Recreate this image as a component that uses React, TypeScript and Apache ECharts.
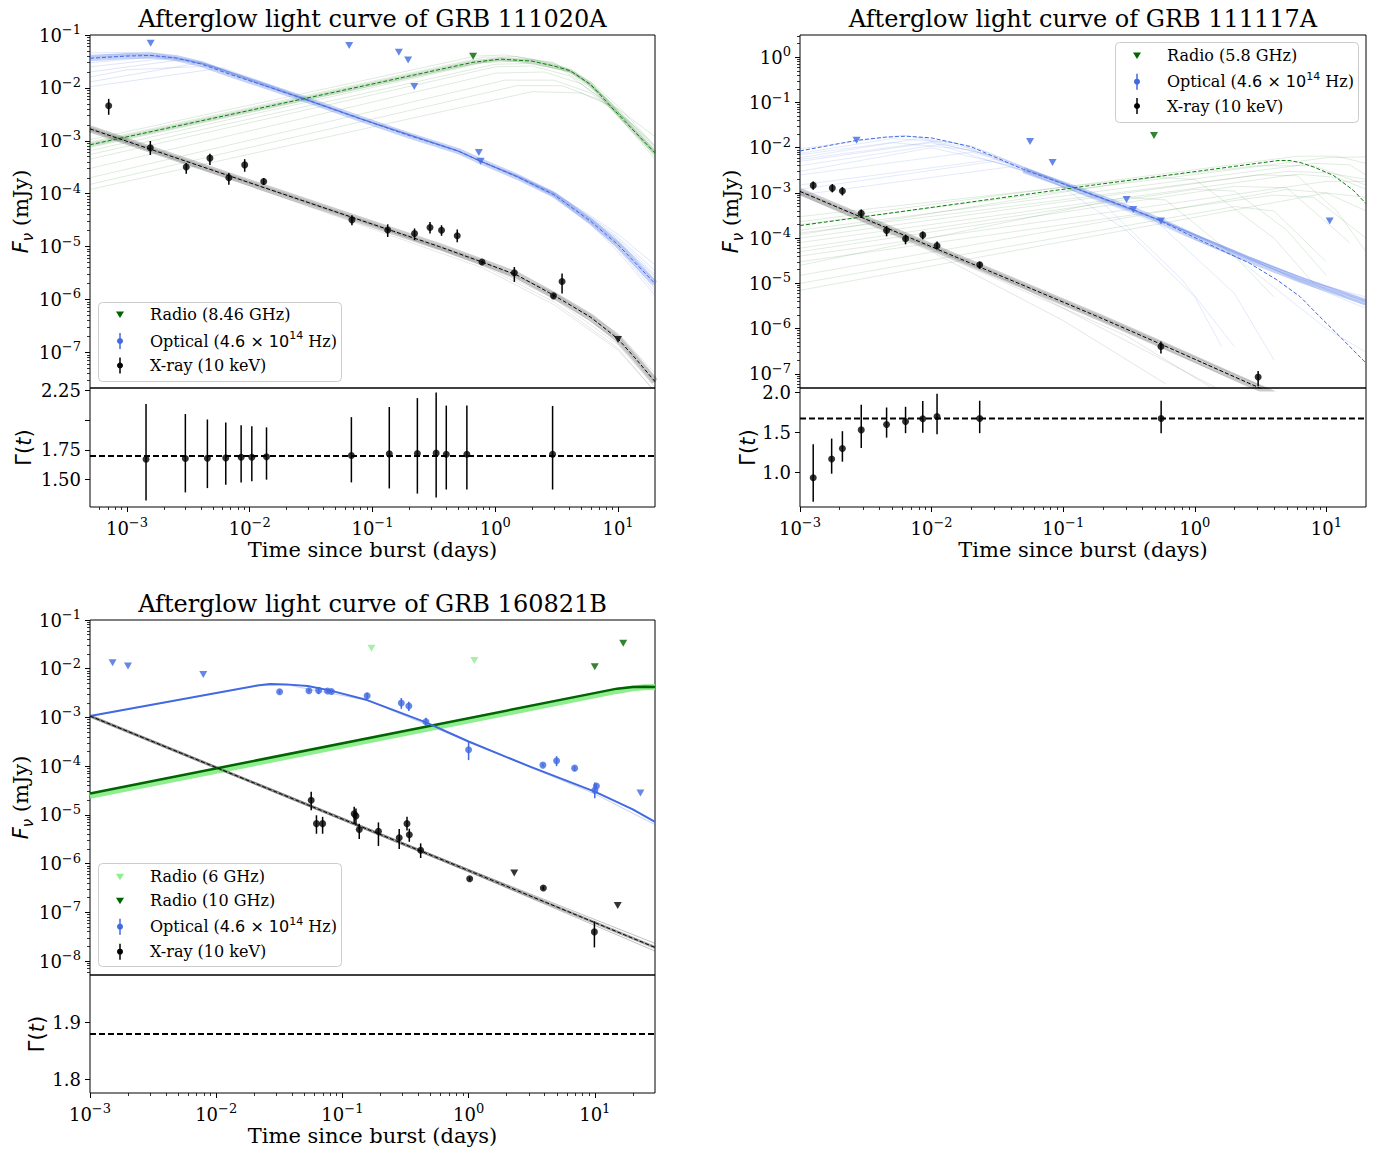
import React, { useEffect, useRef } from 'react';
import * as echarts from 'echarts';

type Pt = [number, number];
type Err = [number, number, number, number]; // t, value, low, high

// ================= GRB 111020A =================
const aXray: Err[] = [
  [7.1e-4, 4.6e-3, 3.1e-3, 6.2e-3],
  [1.55e-3, 7.4e-4, 5.4e-4, 9.9e-4],
  [3.04e-3, 3.2e-4, 2.38e-4, 3.8e-4],
  [4.74e-3, 4.7e-4, 3.5e-4, 5.7e-4],
  [6.76e-3, 2.0e-4, 1.48e-4, 2.45e-4],
  [9.1e-3, 3.5e-4, 2.6e-4, 4.5e-4],
  [1.3e-2, 1.7e-4, 1.46e-4, 1.98e-4],
  [6.8e-2, 3.2e-5, 2.53e-5, 3.9e-5],
  [0.133, 2.06e-5, 1.52e-5, 2.64e-5],
  [0.22, 1.76e-5, 1.32e-5, 2.2e-5],
  [0.294, 2.3e-5, 1.76e-5, 2.9e-5],
  [0.365, 2.03e-5, 1.6e-5, 2.53e-5],
  [0.49, 1.6e-5, 1.21e-5, 2.1e-5],
  [0.78, 5.1e-6, 4.8e-6, 5.4e-6],
  [1.43, 3.2e-6, 2.15e-6, 4.1e-6],
  [2.98, 1.17e-6, 1.08e-6, 1.27e-6],
  [3.5, 2.19e-6, 1.3e-6, 3.1e-6],
];
const aXrayUL: Pt[] = [[10, 1.76e-7]];
const aOptUL: Pt[] = [[1.56e-3, 0.0697], [0.0646, 0.063], [0.164, 0.047], [0.195, 0.0337], [0.219, 0.0106], [0.735, 6.0e-4], [0.76, 4.1e-4]];
const aRadioUL: Pt[] = [[0.66, 0.0396]];
const aGamma: Err[] = [
  [1.43e-3, 1.672, 1.325, 2.136],
  [2.99e-3, 1.678, 1.393, 2.052],
  [4.52e-3, 1.68, 1.429, 2.006],
  [6.38e-3, 1.683, 1.457, 1.98],
  [8.51e-3, 1.689, 1.477, 1.957],
  [1.04e-2, 1.689, 1.486, 1.949],
  [1.37e-2, 1.692, 1.5, 1.94],
  [6.73e-2, 1.703, 1.477, 2.026],
  [0.137, 1.717, 1.426, 2.111],
  [0.232, 1.72, 1.383, 2.186],
  [0.33, 1.723, 1.349, 2.234],
  [0.399, 1.714, 1.417, 2.123],
  [0.587, 1.714, 1.417, 2.123],
  [2.93, 1.714, 1.417, 2.12],
];
const aGammaMean: Pt[] = [[5e-4, 1.7], [20, 1.7]];
const aXrayModel: Pt[] = [[5e-4, 1.68e-3], [0.1, 2.65e-5], [0.35, 1.0e-5], [0.78, 5.1e-6], [1.5, 2.9e-6], [3, 1.2e-6], [6, 4.6e-7], [10, 1.8e-7], [14, 7.5e-8], [20, 2.8e-8]];
const aOptModel: Pt[] = [[5e-4, 0.0363], [1e-3, 0.04], [1.6e-3, 0.041], [2.5e-3, 0.0368], [4e-3, 0.0284], [7e-3, 0.0179], [0.015, 0.01], [0.03, 5.8e-3], [0.08, 2.6e-3], [0.2, 1.25e-3], [0.5, 6.4e-4], [0.76, 4.1e-4], [1.5, 2.1e-4], [3, 9.6e-5], [6, 3.0e-5], [10, 1.08e-5], [20, 2.0e-6]];
const aRadioModel: Pt[] = [[5e-4, 8.4e-4], [0.66, 0.0305], [1.1, 0.035], [2, 0.032], [3, 0.026], [4.1, 0.021], [6, 0.0115], [9.4, 3.7e-3], [14, 1.4e-3], [20, 5.9e-4]];
const aXrayDraws: Pt[][] = [
  [[5e-4, 1.8e-3], [0.1, 2.8e-5], [0.78, 5.4e-6], [3, 1.35e-6], [10, 2.3e-7], [20, 4e-8]],
  [[5e-4, 1.55e-3], [0.1, 2.5e-5], [0.78, 4.8e-6], [3, 1.05e-6], [10, 1.4e-7], [20, 2.2e-8]],
  [[5e-4, 1.7e-3], [0.1, 2.6e-5], [0.78, 4.5e-6], [3, 9e-7], [10, 1.2e-7], [20, 1.8e-8]],
  [[5e-4, 1.6e-3], [0.05, 3.8e-5], [0.78, 4e-6], [3, 8e-7], [10, 1.1e-7], [20, 1.8e-8]],
  [[5e-4, 1.75e-3], [0.1, 2.7e-5], [0.78, 5.2e-6], [3, 1.3e-6], [10, 2e-7], [20, 3.3e-8]],
  [[5e-4, 1.65e-3], [0.1, 2.6e-5], [0.78, 5e-6], [3, 1.15e-6], [10, 1.7e-7], [20, 2.6e-8]],
];
const aOptDraws: Pt[][] = [
  [[5e-4, 0.046], [1.5e-3, 0.047], [4e-3, 0.031], [0.015, 0.0105], [0.08, 2.65e-3], [0.5, 6.5e-4], [0.76, 4.15e-4], [1.5, 2.2e-4], [3, 1.05e-4], [6, 3.6e-5], [10, 1.5e-5], [20, 3.5e-6]],
  [[5e-4, 0.042], [1.2e-3, 0.044], [4e-3, 0.029], [0.015, 0.0098], [0.08, 2.55e-3], [0.5, 6.3e-4], [0.76, 4.1e-4], [1.5, 2.05e-4], [3, 9e-5], [6, 2.6e-5], [10, 8e-6], [20, 1.2e-6]],
  [[5e-4, 0.03], [2e-3, 0.04], [4.5e-3, 0.028], [0.015, 0.0102], [0.08, 2.6e-3], [0.5, 6.4e-4], [0.76, 4.1e-4], [1.5, 2.15e-4], [3, 1e-4], [6, 3.3e-5], [10, 1.3e-5], [20, 2.6e-6]],
  [[5e-4, 0.02], [3e-3, 0.035], [6e-3, 0.022], [0.015, 0.0101], [0.08, 2.62e-3], [0.5, 6.3e-4], [0.76, 4.1e-4], [1.5, 2.1e-4], [3, 9.5e-5], [6, 2.9e-5], [10, 1e-5], [20, 1.6e-6]],
  [[5e-4, 0.013], [4e-3, 0.03], [8e-3, 0.018], [0.02, 8.2e-3], [0.08, 2.6e-3], [0.5, 6.4e-4], [0.76, 4.1e-4], [1.5, 2.2e-4], [3, 1.02e-4], [6, 3.4e-5], [10, 1.4e-5], [20, 3e-6]],
  [[5e-4, 0.0105], [6e-3, 0.024], [0.012, 0.0135], [0.03, 6e-3], [0.08, 2.65e-3], [0.5, 6.5e-4], [0.76, 4.1e-4], [1.5, 2.1e-4], [3, 9e-5], [6, 2.8e-5], [10, 9e-6], [20, 1.4e-6]],
  [[5e-4, 0.016], [1e-3, 0.022], [5e-3, 0.026], [0.012, 0.013], [0.08, 2.6e-3], [0.5, 6.3e-4], [0.76, 4.1e-4], [1.5, 2.2e-4], [3, 1.05e-4], [6, 3.8e-5], [10, 1.7e-5], [20, 4.5e-6]],
  [[5e-4, 0.038], [1.5e-3, 0.043], [4e-3, 0.03], [0.015, 0.01], [0.08, 2.6e-3], [0.5, 6.4e-4], [0.76, 4.1e-4], [1.5, 2.1e-4], [3, 9.8e-5], [6, 3.1e-5], [10, 1.15e-5], [20, 2.2e-6]],
  [[5e-4, 0.025], [2.5e-3, 0.038], [5e-3, 0.025], [0.015, 0.0101], [0.08, 2.6e-3], [0.5, 6.4e-4], [0.76, 4.1e-4], [1.5, 2.12e-4], [3, 9.7e-5], [6, 3.2e-5], [10, 1.2e-5], [20, 2.8e-6]],
];
const aRadioDraws: Pt[][] = [
  [[5e-4, 1.05e-3], [0.7, 0.04], [1.2, 0.042], [3, 0.03], [6, 0.013], [10, 4.5e-3], [20, 8e-4]],
  [[5e-4, 9.5e-4], [0.8, 0.038], [1.5, 0.039], [3, 0.029], [6, 0.012], [10, 3.8e-3], [20, 6.5e-4]],
  [[5e-4, 6.5e-4], [0.8, 0.03], [1.5, 0.032], [3.5, 0.022], [7, 8e-3], [12, 2.3e-3], [20, 6e-4]],
  [[5e-4, 4.5e-4], [1, 0.025], [2, 0.026], [4, 0.017], [8, 5.5e-3], [20, 4.5e-4]],
  [[5e-4, 3e-4], [1, 0.019], [2.5, 0.02], [5, 0.012], [10, 3.5e-3], [20, 5e-4]],
  [[5e-4, 2e-4], [1.2, 0.014], [3, 0.014], [6, 8e-3], [12, 2.5e-3], [20, 7e-4]],
  [[5e-4, 1.5e-4], [1.5, 0.011], [3.5, 0.011], [7, 6e-3], [14, 1.8e-3], [20, 8e-4]],
  [[5e-4, 1.2e-4], [2, 8.5e-3], [5, 8e-3], [10, 4e-3], [20, 1.2e-3]],
  [[5e-4, 7.5e-4], [0.9, 0.033], [1.8, 0.034], [4, 0.022], [8, 6.5e-3], [20, 5.5e-4]],
  [[5e-4, 5.5e-4], [1, 0.028], [2, 0.029], [4.5, 0.019], [9, 5e-3], [20, 7.5e-4]],
];

// ================= GRB 111117A =================
const bXray: Err[] = [
  [1.26e-3, 1.47e-3, 1.18e-3, 1.8e-3],
  [1.76e-3, 1.28e-3, 1.03e-3, 1.57e-3],
  [2.1e-3, 1.1e-3, 8.8e-4, 1.35e-3],
  [2.92e-3, 3.56e-4, 2.8e-4, 4.3e-4],
  [4.55e-3, 1.48e-4, 1.1e-4, 1.85e-4],
  [6.34e-3, 9.7e-5, 7.3e-5, 1.2e-4],
  [8.57e-3, 1.17e-4, 9.4e-5, 1.4e-4],
  [1.1e-2, 6.8e-5, 5.6e-5, 8.4e-5],
  [2.32e-2, 2.57e-5, 2.1e-5, 3.0e-5],
  [0.553, 4.0e-7, 2.8e-7, 5.2e-7],
  [3.03, 8.45e-8, 5.3e-8, 1.15e-7],
];
const bOptUL: Pt[] = [[2.69e-3, 0.0146], [0.056, 0.0138], [0.083, 4.7e-3], [0.303, 7.2e-4], [0.341, 4.3e-4], [0.553, 2.4e-4], [10.6, 2.4e-4]];
const bRadioUL: Pt[] = [[0.49, 0.0187]];
const bGamma: Err[] = [
  [1.26e-3, 0.935, 0.635, 1.352],
  [1.74e-3, 1.169, 0.985, 1.423],
  [2.1e-3, 1.298, 1.135, 1.515],
  [2.92e-3, 1.531, 1.306, 1.844],
  [4.55e-3, 1.598, 1.435, 1.81],
  [6.34e-3, 1.635, 1.49, 1.819],
  [8.57e-3, 1.669, 1.494, 1.89],
  [1.1e-2, 1.698, 1.477, 1.981],
  [2.32e-2, 1.673, 1.49, 1.894],
  [0.555, 1.673, 1.49, 1.894],
];
const bGammaMean: Pt[] = [[1e-3, 1.673], [20, 1.673]];
const bXrayModel: Pt[] = [[1e-3, 1.08e-3], [0.19, 1.75e-6], [0.553, 4.5e-7], [2.95, 5.2e-8], [4, 3.5e-8]];
const bOptModel: Pt[] = [[1e-3, 8.5e-3], [2.7e-3, 0.0146], [4.5e-3, 0.0172], [6.4e-3, 0.018], [0.01, 0.0165], [0.02, 0.0105], [0.05, 3.3e-3], [0.13, 1.2e-3], [0.34, 4.3e-4], [0.55, 2.4e-4], [1.1, 9.0e-5], [2.6, 2.8e-5], [4.2, 1.2e-5], [6.3, 5.1e-6], [8.9, 1.84e-6], [12.7, 6.6e-7], [20, 1.72e-7]];
const bOptCore: Pt[] = [[0.05, 3.2e-3], [0.13, 1.18e-3], [0.34, 4.25e-4], [0.55, 2.4e-4], [1.1, 9.5e-5], [2.6, 3.3e-5], [6.3, 1.2e-5], [20, 3.8e-6]];
const bRadioModel: Pt[] = [[1e-3, 1.9e-4], [0.19, 1.56e-3], [4.4, 5.25e-3], [5.3, 5.2e-3], [6.5, 4.6e-3], [8, 3.75e-3], [11.3, 2.45e-3], [16, 1.15e-3], [20, 5.8e-4]];
const bXrayDraws: Pt[][] = [
  [[1e-3, 1.15e-3], [0.19, 1.9e-6], [0.553, 5e-7], [4, 4e-8]],
  [[1e-3, 1.0e-3], [0.19, 1.6e-6], [0.553, 4e-7], [4, 2.8e-8]],
  [[1e-3, 9.5e-4], [0.02, 2.2e-5], [0.3, 7e-7], [1.5, 4e-8]],
  [[1e-3, 1.1e-3], [0.05, 8e-6], [0.5, 2.5e-7], [2, 3e-8]],
  [[1e-3, 1.05e-3], [0.19, 1.8e-6], [0.553, 4.7e-7], [4, 3.2e-8]],
  [[1e-3, 9e-4], [0.01, 5e-5], [0.1, 1.5e-6], [0.6, 6e-8]],
];
const bOptDraws: Pt[][] = [
  [[1e-3, 9.5e-3], [6e-3, 0.019], [0.02, 0.011], [0.13, 1.25e-3], [0.55, 2.5e-4], [2.6, 3.8e-5], [6.3, 1.3e-5], [20, 3.2e-6]],
  [[1e-3, 6e-3], [8e-3, 0.016], [0.025, 8.5e-3], [0.13, 1.2e-3], [0.55, 2.4e-4], [2.6, 3.4e-5], [6.3, 1.2e-5], [20, 4e-6]],
  [[1e-3, 4e-3], [0.012, 0.012], [0.03, 6.5e-3], [0.13, 1.2e-3], [0.55, 2.45e-4], [2.6, 3.6e-5], [6.3, 1.1e-5], [20, 2.8e-6]],
  [[1e-3, 2.5e-3], [0.02, 8e-3], [0.04, 4.5e-3], [0.13, 1.15e-3], [0.55, 2.4e-4], [2.6, 3.3e-5], [6.3, 1.25e-5], [20, 5e-6]],
  [[1e-3, 1.5e-3], [0.03, 5.5e-3], [0.05, 3.5e-3], [0.13, 1.2e-3], [0.55, 2.5e-4], [2.6, 3.9e-5], [6.3, 1.4e-5], [20, 4.5e-6]],
  [[1e-3, 9e-4], [0.04, 3.8e-3], [0.08, 2.2e-3], [0.13, 1.25e-3], [0.55, 2.5e-4], [2.6, 3.5e-5], [6.3, 1.15e-5], [20, 3.5e-6]],
  [[1e-3, 7e-3], [5e-3, 0.013], [0.02, 9e-3], [0.08, 2e-3], [0.3, 1.5e-4], [1, 5e-6], [1.6, 4e-7]],
  [[1e-3, 3e-3], [0.01, 0.01], [0.04, 4e-3], [0.2, 6e-4], [0.8, 1.2e-5], [2, 4e-7]],
  [[1e-3, 1.2e-3], [0.03, 5e-3], [0.1, 1.6e-3], [0.5, 2.5e-4], [2, 6e-6], [4, 2e-7]],
  [[1e-3, 5e-3], [0.01, 0.013], [0.05, 3e-3], [0.3, 4e-4], [2, 4e-5], [10, 1e-6], [20, 3e-7]],
  [[1e-3, 7.5e-3], [5e-3, 0.016], [0.015, 0.013], [0.05, 3.4e-3], [0.13, 1.2e-3], [0.55, 2.45e-4], [2.6, 3.6e-5], [20, 4.2e-6]],
  [[1e-3, 5.5e-3], [0.01, 0.0135], [0.03, 6.5e-3], [0.13, 1.22e-3], [0.55, 2.5e-4], [2.6, 3.7e-5], [20, 3.9e-6]],
];
const bRadioDraws: Pt[][] = [
  [[1e-3, 2.3e-4], [6, 6.5e-3], [12, 6.5e-3], [20, 4.5e-3]],
  [[1e-3, 1.5e-4], [8, 4.5e-3], [15, 4.2e-3], [20, 2.5e-3]],
  [[1e-3, 1e-4], [3, 2.5e-3], [6, 2.4e-3], [12, 4e-4], [20, 5e-5]],
  [[1e-3, 6e-5], [1, 1.2e-3], [2, 1.1e-3], [5, 1.5e-4], [10, 1.5e-5]],
  [[1e-3, 4e-5], [10, 1.8e-3], [20, 1.8e-3]],
  [[1e-3, 2.5e-5], [0.3, 8e-4], [0.6, 7e-4], [2, 4e-5], [4, 5e-6]],
  [[1e-3, 1.5e-5], [5, 1.2e-3], [10, 1e-3], [20, 4e-4]],
  [[1e-3, 1e-5], [2, 5e-4], [4, 4e-4], [10, 3e-5]],
  [[1e-3, 3e-4], [3, 4e-3], [8, 4e-3], [20, 1.5e-3]],
  [[1e-3, 7e-6], [10, 1e-3], [20, 8e-4]],
  [[1e-3, 1.2e-4], [0.5, 2.2e-3], [1, 2e-3], [4, 1e-4], [8, 1e-5]],
  [[1e-3, 2e-4], [10, 6e-3], [20, 6.3e-3]],
  [[1e-3, 5e-5], [2, 1.4e-3], [5, 1.3e-3], [15, 8e-5]],
  [[1e-3, 8e-5], [6, 2.6e-3], [12, 2.2e-3], [20, 1.2e-3]],
  [[1e-3, 3e-5], [4, 9e-4], [8, 8e-4], [20, 1e-4]],
  [[1e-3, 1.3e-4], [5, 3e-3], [10, 2.8e-3], [20, 2e-3]],
];

// ================= GRB 160821B =================
const cXray: Err[] = [
  [0.0566, 2.0e-5, 1.25e-5, 2.97e-5],
  [0.0623, 6.6e-6, 4.1e-6, 9.8e-6],
  [0.0697, 6.6e-6, 4.1e-6, 9.1e-6],
  [0.124, 1.05e-5, 6.6e-6, 1.46e-5],
  [0.128, 9.5e-6, 6.1e-6, 1.35e-5],
  [0.136, 5.0e-6, 3.2e-6, 6.6e-6],
  [0.193, 4.6e-6, 2.3e-6, 7.0e-6],
  [0.282, 3.4e-6, 2.0e-6, 5.1e-6],
  [0.325, 6.6e-6, 4.8e-6, 9.1e-6],
  [0.339, 3.9e-6, 2.8e-6, 5.2e-6],
  [0.417, 1.88e-6, 1.3e-6, 2.6e-6],
  [1.02, 4.9e-7, 4.5e-7, 5.3e-7],
  [3.91, 3.15e-7, 2.9e-7, 3.4e-7],
  [9.93, 3.96e-8, 1.9e-8, 6.5e-8],
];
const cXrayUL: Pt[] = [[2.3, 6.4e-7], [15.2, 1.38e-7]];
const cOpt: Err[] = [
  [0.0318, 3.37e-3, 3.1e-3, 3.65e-3],
  [0.0543, 3.53e-3, 3.25e-3, 3.85e-3],
  [0.0648, 3.59e-3, 3.0e-3, 4.2e-3],
  [0.0762, 3.48e-3, 3.2e-3, 3.75e-3],
  [0.0818, 3.42e-3, 3.15e-3, 3.7e-3],
  [0.157, 2.79e-3, 2.4e-3, 3.2e-3],
  [0.293, 1.97e-3, 1.5e-3, 2.5e-3],
  [0.336, 1.71e-3, 1.35e-3, 2.1e-3],
  [0.459, 8.15e-4, 6.7e-4, 9.8e-4],
  [1.0, 2.17e-4, 1.33e-4, 3.2e-4],
  [3.88, 1.05e-4, 9.7e-5, 1.13e-4],
  [4.98, 1.29e-4, 1.0e-4, 1.6e-4],
  [6.92, 9.1e-5, 8.0e-5, 1.0e-4],
  [10.0, 3.2e-5, 2.2e-5, 4.6e-5],
  [10.3, 3.9e-5, 3.4e-5, 4.4e-5],
];
const cOptUL: Pt[] = [[1.51e-3, 0.0133], [2.0e-3, 0.01135], [7.9e-3, 7.65e-3], [23, 2.8e-5]];
const cRadio6UL: Pt[] = [[0.17, 0.0262], [1.11, 0.0148]];
const cRadio10UL: Pt[] = [[10, 0.011], [16.8, 0.0332]];
const cGammaMean: Pt[] = [[1e-3, 1.88], [30, 1.88]];
const cXrayModel: Pt[] = [[1e-3, 1.07e-3], [1, 7.2e-7], [30, 1.9e-8]];
const cXrayDraws: Pt[][] = [
  [[1e-3, 1.1e-3], [1, 7.6e-7], [30, 2.3e-8]],
  [[1e-3, 1.04e-3], [1, 6.8e-7], [30, 1.6e-8]],
];
const cOptModel: Pt[] = [[1e-3, 1.07e-3], [0.0219, 4.6e-3], [0.0268, 4.85e-3], [0.0356, 4.77e-3], [0.0531, 4.4e-3], [0.0793, 3.59e-3], [0.157, 2.27e-3], [0.459, 7.9e-4], [1, 3.2e-4], [3, 1.0e-4], [10, 3.0e-5], [20, 1.3e-5], [30, 7.2e-6]];
const cOptDraws: Pt[][] = [
  [[1e-3, 1.05e-3], [0.0219, 4.5e-3], [0.0356, 4.7e-3], [0.157, 2.25e-3], [1, 3.15e-4], [10, 2.7e-5], [30, 6.3e-6]],
];
const cRadio10Model: Pt[] = [[1e-3, 2.74e-5], [15, 3.9e-3], [20, 4.2e-3], [25, 4.25e-3], [30, 4.2e-3]];
const cRadio6Model: Pt[] = [[1e-3, 2.45e-5], [15, 3.5e-3], [20, 3.95e-3], [25, 4.15e-3], [30, 4.2e-3]];

// ================= axes / ticks =================
const aRangeX: Pt = [5e-4, 20];
const bRangeX: Pt = [1e-3, 20];
const cRangeX: Pt = [1e-3, 30];
const aRangeY: Pt = [2.12e-8, 0.1];
const bRangeY: Pt = [4.84e-8, 3.12];
const cRangeY: Pt = [5.16e-9, 0.1];
const aRangeG: Pt = [1.27, 2.271];
const bRangeG: Pt = [0.57, 2.053];
const cRangeG: Pt = [1.776, 1.984];
const decadesX = [1e-3, 1e-2, 1e-1, 1, 10];
const aDecadesY = [1e-7, 1e-6, 1e-5, 1e-4, 1e-3, 1e-2, 1e-1];
const bDecadesY = [1e-7, 1e-6, 1e-5, 1e-4, 1e-3, 1e-2, 1e-1, 1];
const cDecadesY = [1e-8, 1e-7, 1e-6, 1e-5, 1e-4, 1e-3, 1e-2, 1e-1];
const aGTicks = [1.5, 1.75, 2.0, 2.25];
const aGLabels = [1.5, 1.75, 2.25];
const bGTicks = [1.0, 1.5, 2.0];
const cGTicks = [1.8, 1.9];

const titles = ['Afterglow light curve of GRB 111020A', 'Afterglow light curve of GRB 111117A', 'Afterglow light curve of GRB 160821B'];

// ================= styling =================
const SERIF = "'DejaVu Serif', 'Liberation Serif', serif";
const SANS = "'DejaVu Sans', 'Liberation Sans', sans-serif";
const BLUE = '#4169e1';
const DKGREEN = '#006400';
const LTGREEN = '#90ee90';

// minor log-tick positions (2..9 x 10^n) inside a range: axis decoration only
function minorTicks(r: Pt): number[] {
  const out: number[] = [];
  for (let e = Math.floor(Math.log10(r[0])); e <= Math.ceil(Math.log10(r[1])); e++) {
    for (let k = 2; k <= 9; k++) {
      const v = k * Math.pow(10, e);
      if (v > r[0] && v < r[1]) out.push(v);
    }
  }
  return out;
}

const supTxt = (e: number) => (e < 0 ? '\u2212' + String(-e) : String(e));
const logLabel = (v: number) => '{b|10}{s|' + supTxt(Math.round(Math.log10(v))) + '}';

const tickRich = {
  b: { fontFamily: SERIF, fontSize: 18, color: '#000', lineHeight: 24 },
  s: { fontFamily: SERIF, fontSize: 13, color: '#000', verticalAlign: 'top', lineHeight: 14 },
};
const nameFluxRich = {
  i: { fontFamily: SANS, fontStyle: 'italic', fontSize: 21, color: '#000', lineHeight: 28 },
  sub: { fontFamily: SANS, fontStyle: 'italic', fontSize: 15, color: '#000', verticalAlign: 'bottom', lineHeight: 18 },
  n: { fontFamily: SERIF, fontSize: 21, color: '#000', lineHeight: 28 },
};
const nameGammaRich = {
  g: { fontFamily: SANS, fontSize: 21, color: '#000', lineHeight: 28 },
  it: { fontFamily: SANS, fontStyle: 'italic', fontSize: 21, color: '#000', lineHeight: 28 },
};

function topX(grid: number, r: Pt) {
  return {
    type: 'log', gridIndex: grid, min: r[0], max: r[1], position: 'bottom',
    axisLine: { show: false }, axisTick: { show: false }, axisLabel: { show: false },
    splitLine: { show: false }, minorTick: { show: false },
  };
}
function botX(grid: number, r: Pt, gap: number) {
  return {
    type: 'log', gridIndex: grid, min: r[0], max: r[1], position: 'bottom',
    axisLine: { show: false },
    axisTick: { show: true, length: 5, lineStyle: { color: '#000', width: 1 }, customValues: decadesX },
    axisLabel: { customValues: decadesX, formatter: logLabel, margin: 9, color: '#000', fontFamily: SERIF, fontSize: 18, rich: tickRich },
    splitLine: { show: false },
    name: 'Time since burst (days)', nameLocation: 'middle', nameGap: gap,
    nameTextStyle: { fontFamily: SERIF, fontSize: 21, color: '#000' },
  };
}
// minor-tick overlay axes: placed on the opposite side and shifted onto the plot edge
function minorX(grid: number, r: Pt, h: number) {
  return {
    type: 'log', gridIndex: grid, min: r[0], max: r[1], position: 'top', offset: -h,
    axisLine: { show: false }, axisLabel: { show: false }, splitLine: { show: false },
    axisTick: { show: true, inside: true, length: 3, lineStyle: { color: '#000', width: 0.8 }, customValues: minorTicks(r) },
  };
}
function minorY(grid: number, r: Pt, w: number) {
  return {
    type: 'log', gridIndex: grid, min: r[0], max: r[1], position: 'right', offset: -w,
    axisLine: { show: false }, axisLabel: { show: false }, splitLine: { show: false },
    axisTick: { show: true, inside: true, length: 3, lineStyle: { color: '#000', width: 0.8 }, customValues: minorTicks(r) },
  };
}
function fluxY(grid: number, r: Pt, ticks: number[], gap: number) {
  return {
    type: 'log', gridIndex: grid, min: r[0], max: r[1], position: 'left',
    axisLine: { show: false },
    axisTick: { show: true, length: 5, lineStyle: { color: '#000', width: 1 }, customValues: ticks },
    axisLabel: { customValues: ticks, formatter: logLabel, margin: 9, color: '#000', fontFamily: SERIF, fontSize: 18, rich: tickRich },
    splitLine: { show: false },
    name: '{i|F}{sub|\u03bd}{n| (mJy)}', nameLocation: 'middle', nameGap: gap, nameRotate: 90,
    nameTextStyle: { rich: nameFluxRich, fontSize: 21, color: '#000' },
  };
}
function gammaY(grid: number, r: Pt, ticks: number[], labels: number[], dec: number, gap: number) {
  return {
    type: 'value', gridIndex: grid, min: r[0], max: r[1], position: 'left',
    axisLine: { show: false },
    axisTick: { show: true, length: 5, lineStyle: { color: '#000', width: 1 }, customValues: ticks },
    axisLabel: { customValues: labels, formatter: (v: number) => v.toFixed(dec), margin: 9, color: '#000', fontFamily: SERIF, fontSize: 18 },
    splitLine: { show: false },
    name: '{g|\u0393}{g|(}{it|t}{g|)}', nameLocation: 'middle', nameGap: gap, nameRotate: 90,
    nameTextStyle: { rich: nameGammaRich, fontSize: 21, color: '#000' },
  };
}

function line(ax: number, data: Pt[], color: string, width: number, dash: any = 'solid', opacity = 1, z = 3) {
  return {
    type: 'line', xAxisIndex: ax, yAxisIndex: ax, data, showSymbol: false, symbol: 'none', silent: true,
    lineStyle: { color, width, type: dash, opacity, join: 'round' }, z, clip: true,
  };
}
function draws(ax: number, list: Pt[][], color: string, opacity: number) {
  return list.map((d) => line(ax, d, color, 1, 'solid', opacity, 1));
}
function errBars(ax: number, data: Err[], color: string) {
  return {
    type: 'custom', xAxisIndex: ax, yAxisIndex: ax, data, silent: true, z: 5,
    encode: { x: 0, y: [1, 2, 3] },
    renderItem: (params: any, api: any) => {
      const t = api.value(0);
      const a = api.coord([t, api.value(2)]);
      const b = api.coord([t, api.value(3)]);
      return { type: 'line', shape: { x1: a[0], y1: a[1], x2: b[0], y2: b[1] }, style: { stroke: color, lineWidth: 1.5 } };
    },
  };
}
function dots(ax: number, data: Err[], color: string) {
  return {
    type: 'scatter', xAxisIndex: ax, yAxisIndex: ax, data, encode: { x: 0, y: 1 },
    symbol: 'circle', symbolSize: 7, itemStyle: { color }, silent: true, z: 6,
  };
}
function tris(ax: number, data: Pt[], color: string) {
  return {
    type: 'scatter', xAxisIndex: ax, yAxisIndex: ax, data,
    symbol: 'triangle', symbolRotate: 180, symbolSize: [8, 7], itemStyle: { color }, silent: true, z: 6,
  };
}

const legendRich = {
  t: { fontFamily: SERIF, fontSize: 16, fill: '#000', color: '#000', lineHeight: 22 },
  m: { fontFamily: SANS, fontSize: 16, fill: '#000', color: '#000', lineHeight: 22 },
  s: { fontFamily: SANS, fontSize: 11, fill: '#000', color: '#000', verticalAlign: 'top', lineHeight: 12 },
};
const OPT_LABEL = '{t|Optical (}{m|4.6 \u00d7 10}{s|14}{t| Hz)}';

function legendBox(x: number, y: number, w: number, h: number, items: { kind: string; color: string; text: string; cy: number }[]) {
  const els: any[] = [
    { type: 'rect', z: 100, shape: { x: x + 0.5, y: y + 0.5, width: w, height: h, r: 4 }, style: { fill: 'rgba(255,255,255,0.8)', stroke: '#cccccc', lineWidth: 1 } },
  ];
  const mx = x + 22;
  const tx = x + 52;
  items.forEach((it) => {
    if (it.kind === 'tri') {
      els.push({ type: 'polygon', z: 101, shape: { points: [[mx - 4, it.cy - 3], [mx + 4, it.cy - 3], [mx, it.cy + 3.5]] }, style: { fill: it.color } });
    } else {
      els.push({ type: 'line', z: 101, shape: { x1: mx, y1: it.cy - 8, x2: mx, y2: it.cy + 8 }, style: { stroke: it.color, lineWidth: 1.5 } });
      els.push({ type: 'circle', z: 102, shape: { cx: mx, cy: it.cy, r: 3 }, style: { fill: it.color } });
    }
    els.push({
      type: 'text', z: 102, x: tx, y: it.cy,
      style: { text: it.text, rich: legendRich, fontFamily: SERIF, fontSize: 16, fill: '#000', align: 'left', verticalAlign: 'middle' },
    });
  });
  return els;
}

function buildOption() {
  const grids = [
    { left: 90, top: 35, width: 565, height: 353 },
    { left: 90, top: 388, width: 565, height: 119 },
    { left: 800, top: 35, width: 566, height: 353 },
    { left: 800, top: 388, width: 566, height: 119 },
    { left: 90, top: 620, width: 565, height: 355 },
    { left: 90, top: 975, width: 565, height: 118 },
  ].map((g) => ({ ...g, show: true, borderColor: '#000', borderWidth: 1, backgroundColor: 'transparent', containLabel: false }));

  const xAxis = [
    topX(0, aRangeX), botX(1, aRangeX, 32),
    topX(2, bRangeX), botX(3, bRangeX, 32),
    topX(4, cRangeX), botX(5, cRangeX, 32),
    minorX(1, aRangeX, 119), minorX(3, bRangeX, 119), minorX(5, cRangeX, 118),
  ];
  const yAxis = [
    fluxY(0, aRangeY, aDecadesY, 52), gammaY(1, aRangeG, aGTicks, aGLabels, 2, 52),
    fluxY(2, bRangeY, bDecadesY, 50), gammaY(3, bRangeG, bGTicks, bGTicks, 1, 38),
    fluxY(4, cRangeY, cDecadesY, 52), gammaY(5, cRangeG, cGTicks, cGTicks, 1, 39),
    minorY(0, aRangeY, 565), minorY(2, bRangeY, 566), minorY(4, cRangeY, 565),
  ];

  const series: any[] = [
    // ---- panel A ----
    ...draws(0, aRadioDraws, DKGREEN, 0.13),
    ...draws(0, aOptDraws, BLUE, 0.17),
    ...draws(0, aXrayDraws, '#000', 0.1),
    line(0, aRadioModel, DKGREEN, 4, 'solid', 0.2, 1),
    line(0, aOptModel, BLUE, 6, 'solid', 0.3, 1),
    line(0, aXrayModel, '#000', 7, 'solid', 0.2, 1),
    line(0, aRadioModel, '#0a7d0a', 1, [4, 2]),
    line(0, aOptModel, BLUE, 1, [4, 2]),
    line(0, aXrayModel, '#000', 1, [4, 2]),
    errBars(0, aXray, '#000'), dots(0, aXray, '#000'),
    tris(0, aOptUL, BLUE), tris(0, aRadioUL, DKGREEN), tris(0, aXrayUL, '#000'),
    line(1, aGammaMean, '#000', 2, [6, 3]),
    errBars(1, aGamma, '#000'), dots(1, aGamma, '#000'),
    // ---- panel B ----
    ...draws(2, bRadioDraws, DKGREEN, 0.12),
    ...draws(2, bOptDraws, BLUE, 0.14),
    ...draws(2, bXrayDraws, '#000', 0.1),
    line(2, bOptCore, BLUE, 6, 'solid', 0.3, 1),
    line(2, bXrayModel, '#000', 7, 'solid', 0.2, 1),
    line(2, bRadioModel, '#0a7d0a', 1, [4, 2]),
    line(2, bOptModel, BLUE, 1, [4, 2]),
    line(2, bXrayModel, '#000', 1, [4, 2]),
    errBars(2, bXray, '#000'), dots(2, bXray, '#000'),
    tris(2, bOptUL, BLUE), tris(2, bRadioUL, DKGREEN),
    line(3, bGammaMean, '#000', 2, [6, 3]),
    errBars(3, bGamma, '#000'), dots(3, bGamma, '#000'),
    // ---- panel C ----
    line(4, cRadio6Model, LTGREEN, 6, 'solid', 1, 2),
    line(4, cRadio10Model, DKGREEN, 2.5, 'solid', 1, 3),
    ...draws(4, cOptDraws, BLUE, 0.3),
    line(4, cOptModel, BLUE, 2, 'solid', 1, 3),
    ...draws(4, cXrayDraws, '#000', 0.25),
    line(4, cXrayModel, '#000', 3, 'solid', 0.35, 2),
    line(4, cXrayModel, '#000', 1, [4, 2], 1, 3),
    errBars(4, cOpt, BLUE), dots(4, cOpt, BLUE),
    errBars(4, cXray, '#000'), dots(4, cXray, '#000'),
    tris(4, cOptUL, BLUE), tris(4, cRadio6UL, LTGREEN), tris(4, cRadio10UL, DKGREEN), tris(4, cXrayUL, '#000'),
    line(5, cGammaMean, '#000', 2, [6, 3]),
  ];

  const titleEls = [
    { x: 372.5, y: 19 }, { x: 1083, y: 19 }, { x: 372.5, y: 604 },
  ].map((p, i) => ({
    type: 'text', z: 100, x: p.x, y: p.y,
    style: { text: titles[i], fontFamily: SERIF, fontSize: 24, fill: '#000', align: 'center', verticalAlign: 'middle' },
  }));

  const legends = [
    ...legendBox(98, 302, 243, 79, [
      { kind: 'tri', color: DKGREEN, text: '{t|Radio (8.46 GHz)}', cy: 314.5 },
      { kind: 'err', color: BLUE, text: OPT_LABEL, cy: 341 },
      { kind: 'err', color: '#000', text: '{t|X-ray (10 keV)}', cy: 365.5 },
    ]),
    ...legendBox(1115, 42, 243, 80, [
      { kind: 'tri', color: DKGREEN, text: '{t|Radio (5.8 GHz)}', cy: 55.5 },
      { kind: 'err', color: BLUE, text: OPT_LABEL, cy: 81.7 },
      { kind: 'err', color: '#000', text: '{t|X-ray (10 keV)}', cy: 106 },
    ]),
    ...legendBox(98, 863, 243, 103, [
      { kind: 'tri', color: LTGREEN, text: '{t|Radio (6 GHz)}', cy: 876.7 },
      { kind: 'tri', color: DKGREEN, text: '{t|Radio (10 GHz)}', cy: 900.7 },
      { kind: 'err', color: BLUE, text: OPT_LABEL, cy: 926.7 },
      { kind: 'err', color: '#000', text: '{t|X-ray (10 keV)}', cy: 951.7 },
    ]),
  ];

  return {
    animation: false,
    backgroundColor: '#ffffff',
    grid: grids,
    xAxis,
    yAxis,
    series,
    graphic: { elements: [...titleEls, ...legends] },
  };
}

export default function App() {
  const ref = useRef<HTMLDivElement>(null);
  useEffect(() => {
    document.body.style.margin = '0';
    const chart = echarts.init(ref.current as HTMLDivElement, null, { renderer: 'svg' });
    chart.setOption(buildOption() as any);
    return () => chart.dispose();
  }, []);
  return <div ref={ref} style={{ width: 1382, height: 1155 }} />;
}
